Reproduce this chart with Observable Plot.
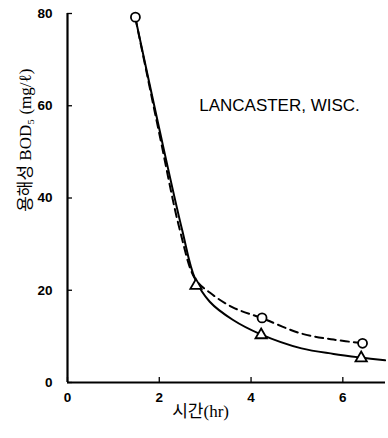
<!DOCTYPE html>
<html><head><meta charset="utf-8">
<script src="https://cdn.jsdelivr.net/npm/d3@7"></script>
<script src="https://cdn.jsdelivr.net/npm/@observablehq/plot@0.6"></script>
<style>body{margin:0;background:#fff}</style>
</head><body><div id="chart"></div>
<script>
// Solid curve (triangle series)
const solidX = [1.48, 2.0, 2.5, 2.78, 3.1, 3.6, 4.2, 5.1, 5.8, 6.4, 6.92];
const solidY = [79, 55, 33, 22.5, 17.5, 13.6, 10.5, 7.4, 6.2, 5.4, 4.8];
// Dashed curve (circle series)
const dashX = [1.48, 2.0, 2.45, 2.78, 3.1, 3.6, 4.25, 5.1, 5.8, 6.45];
const dashY = [79, 54, 33, 22.5, 19.5, 16.3, 13.9, 10.6, 9.3, 8.5];
// Measured points
const circleX = [1.48, 4.24, 6.43];
const circleY = [79.2, 14, 8.5];
const triX = [2.8, 4.22, 6.4];
const triY = [21, 10.3, 5.3];
// Ticks and labels
const xTicks = [0, 2, 4, 6];
const yTicks = [0, 20, 40, 60, 80];
const annotation = [{x: 2.87, y: 60, text: "LANCASTER, WISC."}];
const xLabel = [{x: 2.9, text: "시간(hr)"}];
const yLabel = [{y: 37, text: "용해성 BOD₅ (mg/ℓ)"}];

const solid = solidX.map((x, i) => ({x, y: solidY[i]}));
const dashed = dashX.map((x, i) => ({x, y: dashY[i]}));
const circles = circleX.map((x, i) => ({x, y: circleY[i]}));
const tris = triX.map((x, i) => ({x, y: triY[i]}));

const tickFont = {fontSize: 13.5, fontWeight: "bold", fontFamily: "Liberation Sans, Arial, sans-serif", strokeWidth: 1.3};

const chart = Plot.plot({
  width: 388,
  height: 438,
  marginLeft: 67,
  marginTop: 13,
  marginBottom: 56,
  marginRight: 3,
  style: {background: "#fff", color: "#000"},
  x: {domain: [0, 6.93]},
  y: {domain: [0, 80]},
  marks: [
    Plot.axisX({ticks: xTicks, tickSize: -5, tickPadding: 15, tickFormat: d => d, label: null, ...tickFont}),
    Plot.axisY({ticks: yTicks, tickSize: -5, tickPadding: 20, tickFormat: d => d, label: null, ...tickFont}),
    Plot.ruleX([0], {strokeWidth: 2.2}),
    Plot.ruleY([0], {strokeWidth: 2.2}),
    Plot.line(solid, {x: "x", y: "y", curve: "catmull-rom", stroke: "#000", strokeWidth: 2}),
    Plot.line(dashed, {x: "x", y: "y", curve: "catmull-rom", stroke: "#000", strokeWidth: 2, strokeDasharray: "8,5"}),
    Plot.dot(circles, {x: "x", y: "y", r: 4.5, fill: "#fff", stroke: "#000", strokeWidth: 1.8}),
    Plot.dot(tris, {x: "x", y: "y", r: 4.2, symbol: "triangle", fill: "#fff", stroke: "#000", strokeWidth: 1.8}),
    Plot.text(annotation, {x: "x", y: "y", text: "text", textAnchor: "start", fontSize: 17,
      fontFamily: "Liberation Sans, Arial, sans-serif", letterSpacing: "0.5px"}),
    Plot.text(xLabel, {x: "x", text: "text", frameAnchor: "bottom", dy: 34, fontSize: 17,
      fontFamily: "Liberation Serif, Noto Sans CJK KR, serif"}),
    Plot.text(yLabel, {y: "y", text: "text", frameAnchor: "left", dx: -42, rotate: -90, fontSize: 17,
      fontFamily: "Liberation Serif, Noto Sans CJK KR, serif"})
  ]
});
document.getElementById("chart").appendChild(chart);
</script></body></html>
